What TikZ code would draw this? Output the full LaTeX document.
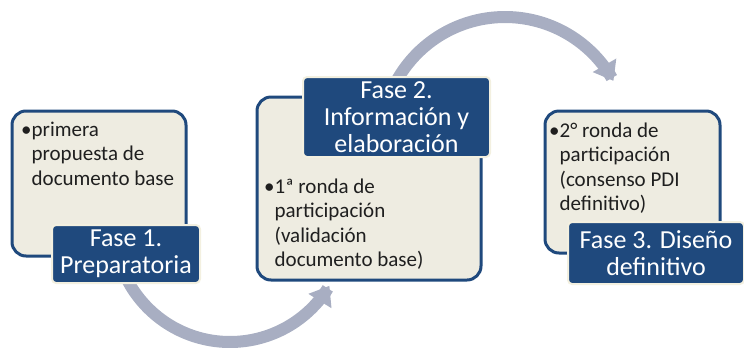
\documentclass[tikz,border=0pt]{standalone}
\usepackage{fontspec}
\setmainfont{Carlito}
\usetikzlibrary{arrows.meta}
\definecolor{navy}{HTML}{1F497D}
\definecolor{tanfill}{HTML}{EEECE1}
\definecolor{cream}{HTML}{F3F0E0}
\definecolor{arrowgrey}{HTML}{A8AEC2}
\begin{document}
\begin{tikzpicture}[x=1pt,y=-1pt,
  phasebox/.style={draw=navy, line width=3pt, fill=tanfill, rounded corners=14pt, inner sep=0pt},
  phaselabel/.style={draw=cream, line width=2pt, fill=navy, rounded corners=4pt, text=white, align=center, inner sep=0pt, font=\fontsize{26}{27}\selectfont},
  bullettext/.style={anchor=base west, inner sep=0pt, font=\fontsize{21}{24.5}\selectfont, text=black!88},
  band/.style={draw=arrowgrey, line width=12pt, -{Triangle[width=26pt,length=18pt]}}]
\useasboundingbox (0,0) rectangle (744,349);
% arrows (behind)
\coordinate (topc) at (505,141);
\coordinate (botc) at (230,226);
\draw[band] plot[domain=-152:-29, samples=80] ({505+124*cos(\x)},{141+124*sin(\x)});
\draw[band] plot[domain=155:31, samples=80] ({230+116*cos(\x)},{226+116*sin(\x)});
% boxes
\node[phasebox, minimum width=174pt, minimum height=145pt] (b1) at (99,183.5) {};
\node[phasebox, minimum width=224pt, minimum height=183pt] (b2) at (369,188.5) {};
\node[phasebox, minimum width=175pt, minimum height=142pt] (b3) at (632.5,182) {};
% box texts
\node[bullettext] (t1) at (21,136) {\textbullet\begin{tabular}[t]{@{}l@{}}primera\\propuesta de\\documento base\end{tabular}};
\node[bullettext] (t2) at (264,193) {\textbullet\begin{tabular}[t]{@{}l@{}}1ª ronda de\\participación\\(validación\\documento base)\end{tabular}};
\node[bullettext] (t3) at (549,137) {\textbullet\begin{tabular}[t]{@{}l@{}}2° ronda de\\participación\\(consenso PDI\\definitivo)\end{tabular}};
% labels
\node[phaselabel, minimum width=148pt, minimum height=58pt] (l1) at (126,254) {Fase 1.\\Preparatoria};
\node[phaselabel, minimum width=187pt, minimum height=80pt] (l2) at (396.5,117) {Fase 2.\\Información y\\elaboración};
\node[phaselabel, minimum width=176pt, minimum height=62pt] (l3) at (656,253) {Fase 3. Diseño\\definitivo};
\end{tikzpicture}
\end{document}
